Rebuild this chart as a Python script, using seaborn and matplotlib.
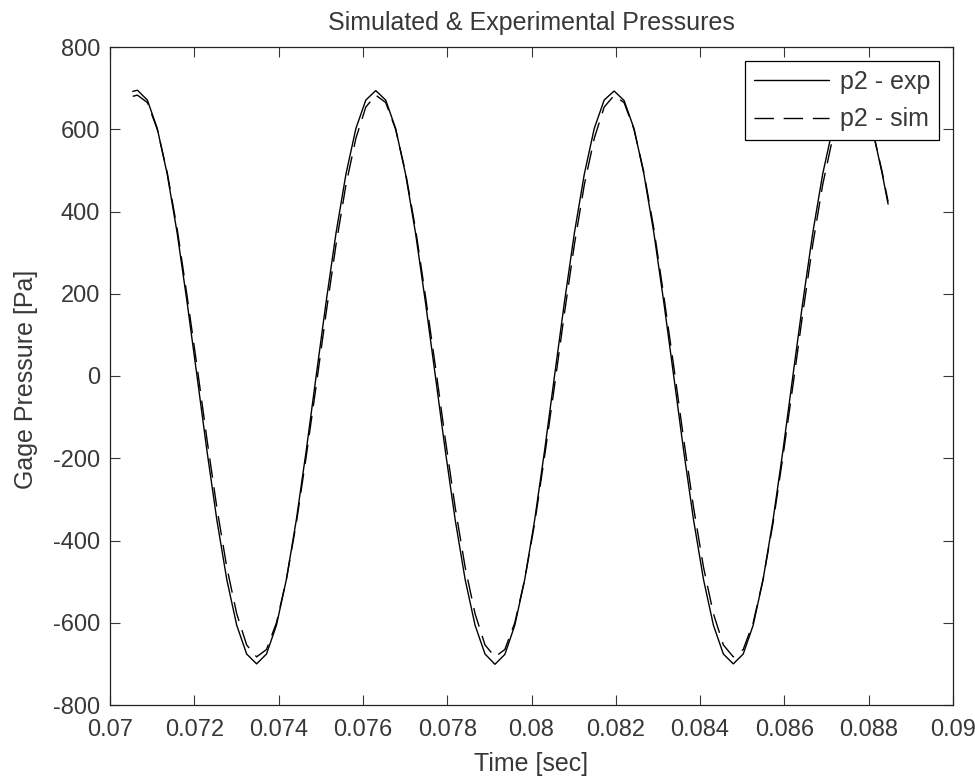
import matplotlib
matplotlib.use("Agg")
import matplotlib.pyplot as plt
import seaborn as sns
import pandas as pd

# ---- data ----
time_s = [0.07054,
          0.070650, 0.070886, 0.071121, 0.071357, 0.071593, 0.071828,
          0.072064, 0.072299, 0.072535, 0.072771, 0.073006, 0.073242,
          0.073478, 0.073713, 0.073949, 0.074184, 0.074420, 0.074656,
          0.074891, 0.075127, 0.075363, 0.075598, 0.075834, 0.076069,
          0.076305, 0.076541, 0.076776, 0.077012, 0.077248, 0.077483,
          0.077719, 0.077954, 0.078190, 0.078426, 0.078661, 0.078897,
          0.079133, 0.079368, 0.079604, 0.079839, 0.080075, 0.080311,
          0.080546, 0.080782, 0.081018, 0.081253, 0.081489, 0.081724,
          0.081960, 0.082196, 0.082431, 0.082667, 0.082903, 0.083138,
          0.083374, 0.083609, 0.083845, 0.084081, 0.084316, 0.084552,
          0.084788, 0.085023, 0.085259, 0.085494, 0.085730, 0.085966,
          0.086201, 0.086437, 0.086673, 0.086908, 0.087144, 0.087379,
          0.087615, 0.087851, 0.088086, 0.088322,
          0.08846]

p2_exp = [692,
          695, 671, 602, 491, 348, 180,
          0, -181, -350, -495, -606, -676,
          -700, -676, -606, -495, -350, -181,
          0, 180, 348, 491, 602, 671,
          694, 671, 602, 491, 348, 180,
          0, -181, -350, -495, -606, -676,
          -701, -677, -606, -495, -350, -181,
          0, 180, 348, 491, 602, 671,
          693, 670, 602, 491, 348, 180,
          0, -181, -350, -495, -606, -676,
          -700, -676, -606, -495, -350, -181,
          0, 180, 348, 491, 602, 671,
          694, 670, 602, 491,
          418]

p2_sim = [680,
          683, 665, 600, 495, 358, 195,
          24, -153, -320, -465, -578, -654,
          -683, -665, -600, -495, -358, -195,
          -24, 153, 320, 465, 578, 654,
          683, 665, 600, 495, 358, 195,
          24, -153, -320, -465, -578, -654,
          -683, -665, -600, -495, -358, -195,
          -24, 153, 320, 465, 578, 654,
          682, 665, 600, 495, 358, 195,
          24, -153, -320, -465, -578, -654,
          -683, -665, -600, -495, -358, -195,
          -24, 153, 320, 465, 578, 654,
          683, 665, 600, 495,
          424]

x_ticks = [0.07, 0.072, 0.074, 0.076, 0.078, 0.08, 0.082, 0.084, 0.086, 0.088, 0.09]
x_tick_labels = ["0.07", "0.072", "0.074", "0.076", "0.078", "0.08",
                 "0.082", "0.084", "0.086", "0.088", "0.09"]
y_ticks = [-800, -600, -400, -200, 0, 200, 400, 600, 800]
y_tick_labels = ["-800", "-600", "-400", "-200", "0", "200", "400", "600", "800"]

series_labels = ["p2 - exp", "p2 - sim"]

# ---- styling ----
sns.set_style("white")
plt.rcParams["font.family"] = ["Liberation Sans", "DejaVu Sans"]
txt_color = "#383838"
fs_tick = 17
fs_lab = 18

fig = plt.figure(figsize=(9.75, 7.76), dpi=100)
ax = fig.add_axes([110 / 975, 1 - 705 / 776, (953 - 110) / 975, (705 - 47) / 776])

df = pd.DataFrame({"t": time_s, "exp": p2_exp, "sim": p2_sim})

sns.lineplot(data=df, x="t", y="exp", ax=ax, color="black", lw=1.0,
             label=series_labels[0], sort=False, estimator=None)
sns.lineplot(data=df, x="t", y="sim", ax=ax, color="black", lw=1.0,
             linestyle=(0, (14, 7)), label=series_labels[1], sort=False, estimator=None)

ax.set_xlim(0.07, 0.09)
ax.set_ylim(-800, 800)
ax.set_xticks(x_ticks)
ax.set_xticklabels(x_tick_labels)
ax.set_yticks(y_ticks)
ax.set_yticklabels(y_tick_labels)

ax.tick_params(direction="in", length=7, width=0.8, colors=txt_color,
               labelsize=fs_tick, top=True, right=True, bottom=True, left=True)
ax.tick_params(axis="x", pad=10)
ax.tick_params(axis="y", pad=7)
for sp in ax.spines.values():
    sp.set_visible(True)
    sp.set_color("#222222")
    sp.set_linewidth(0.9)

ax.set_xlabel("Time [sec]", fontsize=fs_lab, color=txt_color)
ax.set_ylabel("Gage Pressure [Pa]", fontsize=fs_lab, color=txt_color)
ax.xaxis.set_label_coords(0.5, -0.071)
ax.yaxis.set_label_coords(-0.086, 0.495)
ax.set_title("Simulated & Experimental Pressures", fontsize=fs_lab, color=txt_color, pad=12)

leg = ax.legend(loc="upper right", fontsize=fs_lab, frameon=True, fancybox=False,
                framealpha=1, edgecolor="black", handlelength=3.0,
                handletextpad=0.45, labelspacing=0.55, borderpad=0.35,
                borderaxespad=0.55)
leg.get_frame().set_linewidth(0.9)
for t in leg.get_texts():
    t.set_color(txt_color)

fig.savefig("out.png", dpi=100, facecolor="white")
